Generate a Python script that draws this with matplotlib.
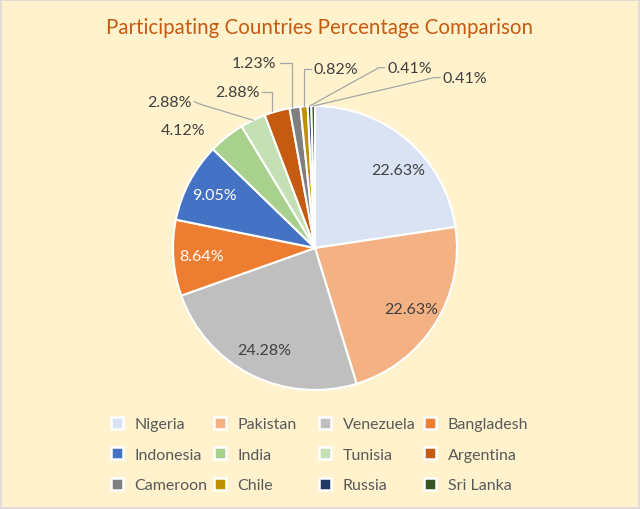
import numpy as np
import matplotlib
matplotlib.use("Agg")
import matplotlib.pyplot as plt
from matplotlib.lines import Line2D
from matplotlib.patches import Rectangle

countries = ["Nigeria", "Pakistan", "Venezuela", "Bangladesh", "Indonesia", "India",
             "Tunisia", "Argentina", "Cameroon", "Chile", "Russia", "Sri Lanka"]
percentages = [22.63, 22.63, 24.28, 8.64, 9.05, 4.12, 2.88, 2.88, 1.23, 0.82, 0.41, 0.41]
colors = ["#DAE3F3", "#F4B183", "#BFBFBF", "#ED7D31", "#4472C4", "#A9D18E",
          "#C5E0B4", "#C55A11", "#7F7F7F", "#BF9000", "#203864", "#385723"]
title = "Participating Countries Percentage Comparison"

plt.rcParams['font.family'] = ['Lato', 'DejaVu Sans']
BG = "#FFF2CC"
TXT = "#404040"

fig = plt.figure(figsize=(6.4, 5.1), dpi=100)
fig.patch.set_facecolor(BG)
fig.patches.append(Rectangle((0.002, 0.002), 0.996, 0.996, transform=fig.transFigure,
                             fill=False, edgecolor="#D9D9D9", linewidth=1.2))

W, H = 640, 510
cx, cy, r = 315, 249, 142
ax = fig.add_axes([(cx - r) / W, (H - cy - r) / H, 2 * r / W, 2 * r / H])
ax.set_facecolor("none")

wedges, _ = ax.pie(percentages, colors=colors, startangle=90, counterclock=False,
                   wedgeprops=dict(edgecolor="white", linewidth=1.5), radius=1.0)
ax.set_xlim(-1, 1)
ax.set_ylim(-1, 1)
ax.set_aspect("equal")
ax.axis("off")

fs = 11.5
# inside labels
inside_color = [TXT, TXT, TXT, "white", "white"]
inside_shift = [6, 0, 0, 0, 0]  # small angular nudges (degrees, clockwise)
for i in range(5):
    w = wedges[i]
    ang = np.deg2rad((w.theta1 + w.theta2) / 2 - inside_shift[i])
    x, y = 0.8 * np.cos(ang), 0.8 * np.sin(ang)
    ax.text(x, y, f"{percentages[i]:.2f}%", ha="center", va="center",
            fontsize=fs, color=inside_color[i])

# outside labels: (label anchor, elbow, alignment, vertical drop)
outside = {
    5: ((-0.93, 0.83), None, "center", False),
    6: ((-0.87, 1.03), (-0.80, 1.01), "right", False),
    7: ((-0.39, 1.10), (-0.30, 1.10), "right", True),
    8: ((-0.27, 1.30), (-0.16, 1.30), "right", True),
    9: ((-0.01, 1.26), (-0.08, 1.26), "left", True),
    10: ((0.51, 1.27), (0.45, 1.27), "left", False),
    11: ((0.90, 1.20), (0.84, 1.20), "left", False),
}
for i, (lp, elbow, ha, drop) in outside.items():
    w = wedges[i]
    ang = np.deg2rad((w.theta1 + w.theta2) / 2)
    ex, ey = np.cos(ang), np.sin(ang)
    if elbow is not None:
        lx = lp[0] + (0.02 if ha == "right" else -0.02)
        end_x = elbow[0] if drop else ex
        ax.plot([lx, elbow[0], end_x], [lp[1], elbow[1], ey], color="#A6A6A6",
                lw=0.9, clip_on=False)
    ax.text(lp[0], lp[1], f"{percentages[i]:.2f}%", ha=ha, va="center",
            fontsize=fs, color=TXT, clip_on=False)

fig.text(0.5, 1 - 28 / H, title, ha="center", va="center", fontsize=14.8, color="#C55A11")

# legend: 4 columns, filled row-wise, fixed column pitch
col_x = [117, 220, 325, 430]
ncol = 4
for j in range(ncol):
    idx = list(range(j, len(countries), ncol))
    hs = [Line2D([], [], marker="s", linestyle="none", markersize=8,
                 markerfacecolor=colors[k], markeredgecolor="white", markeredgewidth=1.8)
          for k in idx]
    leg = fig.legend(hs, [countries[k] for k in idx], loc="upper left",
                     bbox_to_anchor=((col_x[j] - 8) / W, 1 - 418 / H),
                     frameon=False, fontsize=fs, labelcolor="#595959", handlelength=1.0,
                     handletextpad=0.6, labelspacing=1.03, borderpad=0, borderaxespad=0)

fig.savefig("out.png", dpi=100, facecolor=BG)
